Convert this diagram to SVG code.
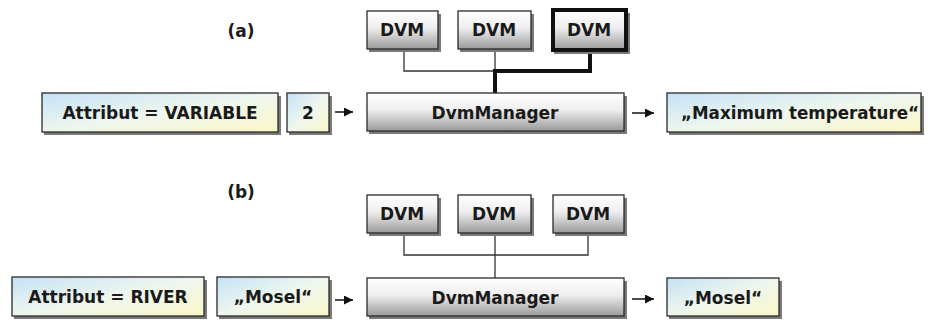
<svg xmlns="http://www.w3.org/2000/svg" width="928" height="320" viewBox="0 0 928 320">
<defs>
<linearGradient id="gray" x1="0" y1="0" x2="0" y2="1">
<stop offset="0" stop-color="#ffffff"/>
<stop offset="0.45" stop-color="#eeeeee"/>
<stop offset="1" stop-color="#9a9a9a"/>
</linearGradient>
<linearGradient id="by" x1="0" y1="0" x2="1" y2="1">
<stop offset="0" stop-color="#c4e2f6"/>
<stop offset="0.5" stop-color="#eef6ee"/>
<stop offset="1" stop-color="#fbf7c8"/>
</linearGradient>
<marker id="ah" viewBox="0 0 10 10" refX="10" refY="5" markerWidth="9" markerHeight="9" markerUnits="userSpaceOnUse" orient="auto">
<path d="M0,0 L10,5 L0,10 Z" fill="#111"/>
</marker>
</defs>
<style>
.sh{fill:#7a7a7a;}
.g{fill:url(#gray);stroke:#2a2a2a;stroke-width:1.3;}
.gb{fill:url(#gray);stroke:#111;stroke-width:4;}
.b{fill:url(#by);stroke:#2a2a2a;stroke-width:1.3;}
text{font-family:"DejaVu Sans","Liberation Sans",sans-serif;font-weight:bold;font-size:17px;fill:#1a1a1a;text-anchor:middle;}
.c{fill:none;stroke:#333;stroke-width:1.3;}
.ct{fill:none;stroke:#111;stroke-width:4;}
.ar{fill:none;stroke:#111;stroke-width:1.5;marker-end:url(#ah);}
</style>

<text x="241" y="37">(a)</text>
<text x="241" y="198">(b)</text>

<g id="connectors">
<path class="c" d="M404,49 V71 H495 M495,49 V71"/>
<path class="ct" d="M590,52 V71 H495 V93"/>
<line class="ar" x1="335" y1="112" x2="353" y2="112"/>
<line class="ar" x1="632" y1="113" x2="654" y2="113"/>
<path class="c" d="M404,233 V255 H588 V233 M495,233 V278"/>
<line class="ar" x1="335" y1="300" x2="353" y2="300"/>
<line class="ar" x1="632" y1="299" x2="654" y2="299"/>
</g>

<g id="a-dvm1"><rect class="sh" x="369" y="14" width="72" height="38"/><rect class="g" x="367" y="11" width="71" height="38"/><text x="402" y="36">DVM</text></g>
<g id="a-dvm2"><rect class="sh" x="460" y="14" width="74" height="38"/><rect class="g" x="458" y="11" width="73" height="38"/><text x="494" y="36">DVM</text></g>
<g id="a-dvm3"><rect class="sh" x="554" y="13" width="76" height="41"/><rect class="gb" x="553" y="10" width="73" height="40"/><text x="589" y="36">DVM</text></g>
<g id="a-manager"><rect class="sh" x="369" y="96" width="258" height="38"/><rect class="g" x="367" y="93" width="257" height="38"/><text x="495" y="119">DvmManager</text></g>
<g id="a-attr"><rect class="sh" x="44" y="96" width="237" height="39"/><rect class="b" x="42" y="93" width="236" height="39"/><text x="160" y="119">Attribut = VARIABLE</text></g>
<g id="a-val"><rect class="sh" x="289" y="96" width="43" height="39"/><rect class="b" x="287" y="93" width="42" height="39"/><text x="308" y="119">2</text></g>
<g id="a-out"><rect class="sh" x="669" y="96" width="255" height="39"/><rect class="b" x="667" y="93" width="254" height="39"/><text x="800" y="119" textLength="238" lengthAdjust="spacingAndGlyphs">„Maximum temperature“</text></g>

<g id="b-dvm1"><rect class="sh" x="369" y="198" width="72" height="38"/><rect class="g" x="367" y="195" width="71" height="38"/><text x="402" y="220">DVM</text></g>
<g id="b-dvm2"><rect class="sh" x="460" y="198" width="74" height="38"/><rect class="g" x="458" y="195" width="73" height="38"/><text x="494" y="220">DVM</text></g>
<g id="b-dvm3"><rect class="sh" x="555" y="198" width="72" height="38"/><rect class="g" x="553" y="195" width="71" height="38"/><text x="588" y="220">DVM</text></g>
<g id="b-manager"><rect class="sh" x="369" y="281" width="258" height="38"/><rect class="g" x="367" y="278" width="257" height="38"/><text x="495" y="304">DvmManager</text></g>
<g id="b-attr"><rect class="sh" x="14" y="280" width="193" height="39"/><rect class="b" x="12" y="277" width="192" height="39"/><text x="108" y="303">Attribut = RIVER</text></g>
<g id="b-val"><rect class="sh" x="219" y="280" width="113" height="39"/><rect class="b" x="217" y="277" width="112" height="39"/><text x="273" y="303">„Mosel“</text></g>
<g id="b-out"><rect class="sh" x="669" y="281" width="113" height="38"/><rect class="b" x="667" y="278" width="112" height="38"/><text x="723" y="304">„Mosel“</text></g>
</svg>
